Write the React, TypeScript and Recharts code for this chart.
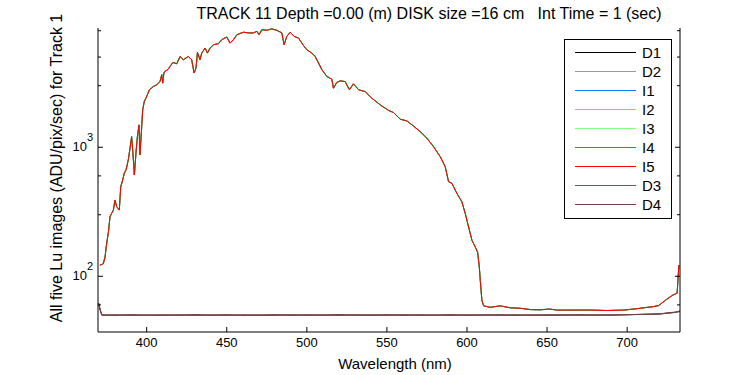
import { LineChart, Line, XAxis, YAxis } from "recharts";

const FONT = '"Liberation Sans", Arial, Helvetica, sans-serif';

const titleText = "TRACK 11 Depth =0.00 (m) DISK size =16 cm   Int Time = 1 (sec)";
const xLabel = "Wavelength (nm)";
const yLabel = "All five Lu images (ADU/pix/sec) for Track 1";

const xTicks = [400, 450, 500, 550, 600, 650, 700];
const yTicks = [
  40, 50, 60, 70, 80, 90, 100, 200, 300, 400, 500, 600, 700, 800, 900, 1000, 2000, 3000, 4000,
  5000, 6000, 7000, 8000,
];
const yLabelled: Record<number, string> = { 100: "2", 1000: "3" };

// bright (upwelling) spectrum, nm and ADU/pix/sec
const iWl = [
  370.8, 372.9, 374.0, 375.0, 376.0, 377.1, 378.1, 379.2, 380.2, 381.3, 382.9, 383.8, 385.0,
  386.0, 387.1, 388.5, 389.6, 390.6, 391.7, 392.3, 393.3, 394.2, 395.2, 395.8, 396.9, 397.5,
  398.5, 400.0, 401.7, 404.2, 406.3, 408.3, 409.4, 410.0, 410.8, 413.5, 416.3, 418.8, 420.8,
  422.9, 426.0, 428.1, 429.6, 430.8, 431.7, 433.3, 434.4, 436.5, 437.9, 439.6, 441.7, 444.8,
  446.9, 450.0, 452.1, 454.2, 456.3, 460.4, 463.5, 466.7, 468.8, 470.2, 471.9, 475.0, 478.1,
  481.3, 484.4, 485.8, 487.5, 489.6, 492.1, 494.8, 497.9, 500.0, 503.1, 505.2, 507.3, 509.4,
  512.5, 515.6, 516.6, 518.7, 520.8, 523.9, 526.6, 529.1, 532.3, 536.4, 540.6, 545.8, 551.0,
  554.1, 558.3, 562.5, 566.6, 570.8, 575.0, 579.1, 583.3, 586.4, 588.5, 590.6, 593.7, 596.8,
  598.9, 601.0, 603.1, 605.2, 606.6, 607.7, 608.3, 609.3, 610.4, 614.6, 620.8, 627.0, 633.3,
  639.6, 645.8, 651.6, 656.2, 666.7, 677.0, 687.5, 697.9, 706.2, 710.4, 716.7, 719.8, 723.9,
  728.1, 731.2, 732.3,
];
const iLu = [
  122, 125, 141, 180, 215, 289, 307, 326, 389, 346, 326, 494, 557, 628, 666, 797, 982, 1208, 797,
  610, 898, 1208, 1490, 871, 1445, 1950, 2260, 2475, 2790, 2960, 3050, 3230, 3650, 3140, 3800,
  4040, 4540, 4440, 5050, 4770, 5050, 4770, 3760, 4110, 5430, 4770, 5370, 5880, 5370, 5880, 6230,
  6350, 6820, 7150, 6420, 6820, 7450, 7790, 7700, 7700, 7920, 7450, 8150, 8060, 8270, 8060, 7700,
  6230, 7230, 7790, 7230, 7020, 6150, 5700, 5370, 5050, 4490, 3990, 3540, 3370, 2870, 3180, 3270,
  3230, 2790, 3100, 2790, 2700, 2400, 2130, 1930, 1860, 1650, 1600, 1460, 1320, 1175, 1010, 846,
  707, 541, 525, 439, 378, 307, 241, 190, 168, 154, 118, 93, 65, 59, 57.5, 59, 57, 56.5, 55.2, 55,
  55.7, 54.7, 54.7, 54.7, 54.3, 54.7, 56.1, 57, 58.3, 59.4, 65.2, 71, 74, 122,
];

// dark frames
const dWl = [
  370, 371, 372, 380, 390, 400, 410, 420, 430, 440, 450, 460, 470, 480, 490, 500, 510, 520, 530,
  540, 550, 560, 570, 580, 590, 600, 610, 620, 630, 640, 650, 660, 670, 680, 690, 700, 710, 720,
  730, 733,
];
const d1 = [
  62, 55, 50.2, 49.6, 50.3, 49.8, 50.1, 49.7, 50.4, 49.9, 50.2, 49.6, 50.0, 50.3, 49.7, 50.1,
  49.9, 50.4, 49.8, 50.0, 50.2, 49.7, 50.1, 49.9, 50.3, 49.8, 50.0, 50.2, 49.7, 50.1, 50.0, 49.8,
  50.3, 50.0, 50.2, 50.4, 50.6, 51.0, 52.6, 53.5,
];
const d2 = [
  61, 54, 49.8, 50.2, 49.7, 50.3, 49.9, 50.2, 49.8, 50.4, 49.7, 50.1, 50.3, 49.8, 50.2, 49.9,
  50.3, 49.8, 50.1, 50.3, 49.7, 50.2, 49.9, 50.1, 49.8, 50.2, 50.1, 49.8, 50.3, 49.9, 50.2, 50.1,
  49.8, 50.3, 50.1, 50.5, 50.7, 51.1, 52.4, 53.2,
];
const d3 = [
  62, 54, 50.1, 49.9, 50.2, 49.7, 50.3, 49.9, 50.0, 49.7, 50.3, 49.9, 50.2, 49.7, 50.0, 50.3,
  49.8, 50.1, 49.9, 50.3, 49.8, 50.0, 50.3, 49.7, 50.1, 50.0, 49.8, 50.3, 50.0, 49.8, 50.3, 49.9,
  50.1, 49.8, 50.3, 50.3, 50.8, 51.2, 52.8, 53.8,
];
const d4 = [
  61, 55, 49.9, 50.3, 49.8, 50.2, 49.7, 50.3, 49.9, 50.2, 49.8, 50.3, 49.7, 50.1, 50.3, 49.8,
  50.2, 49.9, 50.3, 49.8, 50.1, 50.3, 49.8, 50.2, 49.9, 50.1, 50.3, 49.8, 50.2, 50.0, 49.9, 50.3,
  50.0, 50.2, 49.9, 50.4, 50.7, 51.0, 52.5, 53.6,
];

const toPoints = (wl: number[], lu: number[]) => wl.map((w, i) => ({ wl: w, lu: lu[i] }));

const series = [
  { name: "D1", color: "#000000", data: toPoints(dWl, d1) },
  { name: "D2", color: "#999999", data: toPoints(dWl, d2) },
  { name: "I1", color: "#0080ff", data: toPoints(iWl, iLu) },
  { name: "I2", color: "#33e6e6", data: toPoints(iWl, iLu) },
  { name: "I3", color: "#80ff80", data: toPoints(iWl, iLu) },
  { name: "I4", color: "#1aa81a", data: toPoints(iWl, iLu) },
  { name: "I5", color: "#ff0000", data: toPoints(iWl, iLu) },
  { name: "D3", color: "#8a4d4d", data: toPoints(dWl, d3) },
  { name: "D4", color: "#704040", data: toPoints(dWl, d4) },
];

const tickFont = { fontFamily: FONT, fontSize: 13, fill: "#000" };

function BottomTick({ x, y, payload }: any) {
  return (
    <g>
      <line x1={x} x2={x} y1={y} y2={y - 5} stroke="#000" />
      <text x={x} y={y + 15} textAnchor="middle" {...tickFont}>
        {payload.value}
      </text>
    </g>
  );
}

function TopTick({ x, y }: any) {
  return <line x1={x} x2={x} y1={y} y2={y + 5} stroke="#000" />;
}

function LeftTick({ x, y, payload }: any) {
  const sup = yLabelled[payload.value];
  return (
    <g>
      <line x1={x} x2={x + (sup ? 5 : 3)} y1={y} y2={y} stroke="#000" />
      {sup && (
        <text x={x - 5} y={y + 4} textAnchor="end" {...tickFont}>
          10
          <tspan dy={-10} fontSize={11}>
            {sup}
          </tspan>
        </text>
      )}
    </g>
  );
}

function RightTick({ x, y, payload }: any) {
  const major = yLabelled[payload.value];
  return <line x1={x} x2={x - (major ? 5 : 3)} y1={y} y2={y} stroke="#000" />;
}

export default function App() {
  return (
    <div style={{ position: "absolute", left: 0, top: 0, width: 750, height: 375, background: "#fff" }}>
      <LineChart
        width={750}
        height={375}
        margin={{ top: 28, right: 0, bottom: 0, left: 0 }}
        style={{ fontFamily: FONT }}
      >
        <XAxis
          xAxisId="b"
          dataKey="wl"
          type="number"
          domain={[369.6, 733]}
          ticks={xTicks}
          allowDataOverflow
          height={43}
          tickSize={0}
          tickMargin={0}
          tickLine={false}
          axisLine={{ stroke: "#000" }}
          tick={<BottomTick />}
        />
        <XAxis
          xAxisId="t"
          orientation="top"
          dataKey="wl"
          type="number"
          domain={[369.6, 733]}
          ticks={xTicks}
          allowDataOverflow
          height={0}
          tickSize={0}
          tickMargin={0}
          tickLine={false}
          axisLine={{ stroke: "#000" }}
          tick={<TopTick />}
        />
        <YAxis
          yAxisId="l"
          type="number"
          scale="log"
          domain={[37, 8400]}
          ticks={yTicks}
          allowDataOverflow
          width={98}
          tickSize={0}
          tickMargin={0}
          tickLine={false}
          axisLine={{ stroke: "#000" }}
          tick={<LeftTick />}
        />
        <YAxis
          yAxisId="r"
          orientation="right"
          type="number"
          scale="log"
          domain={[37, 8400]}
          ticks={yTicks}
          allowDataOverflow
          width={70}
          tickSize={0}
          tickMargin={0}
          tickLine={false}
          axisLine={{ stroke: "#000" }}
          tick={<RightTick />}
        />
        {series.map((s) => (
          <Line
            key={s.name}
            xAxisId="b"
            yAxisId="l"
            data={s.data}
            dataKey="lu"
            name={s.name}
            stroke={s.color}
            strokeWidth={1}
            dot={false}
            type="linear"
            isAnimationActive={false}
          />
        ))}
      </LineChart>
      <svg
        width={750}
        height={375}
        style={{ position: "absolute", left: 0, top: 0, pointerEvents: "none" }}
      >
        <text x={429} y={19} textAnchor="middle" fontFamily={FONT} fontSize={16} xmlSpace="preserve">
          {titleText}
        </text>
        <text x={395} y={369} textAnchor="middle" fontFamily={FONT} fontSize={15}>
          {xLabel}
        </text>
        <text
          x={0}
          y={0}
          transform="translate(62,168) rotate(-90)"
          textAnchor="middle"
          fontFamily={FONT}
          fontSize={16}
        >
          {yLabel}
        </text>
      </svg>
      {/* legend */}
      <div
        style={{
          position: "absolute",
          left: 564,
          top: 39,
          width: 106,
          height: 178,
          border: "1px solid #000",
          background: "#fff",
          fontFamily: FONT,
          fontSize: 15,
        }}
      >
        {series.map((s, i) => (
          <div
            key={s.name}
            style={{ position: "absolute", left: 0, top: 3 + i * 19, height: 19, display: "flex", alignItems: "center" }}
          >
            <span style={{ display: "inline-block", marginLeft: 10, width: 61, height: 1, background: s.color }} />
            <span style={{ marginLeft: 6, lineHeight: "19px" }}>{s.name}</span>
          </div>
        ))}
      </div>
    </div>
  );
}
